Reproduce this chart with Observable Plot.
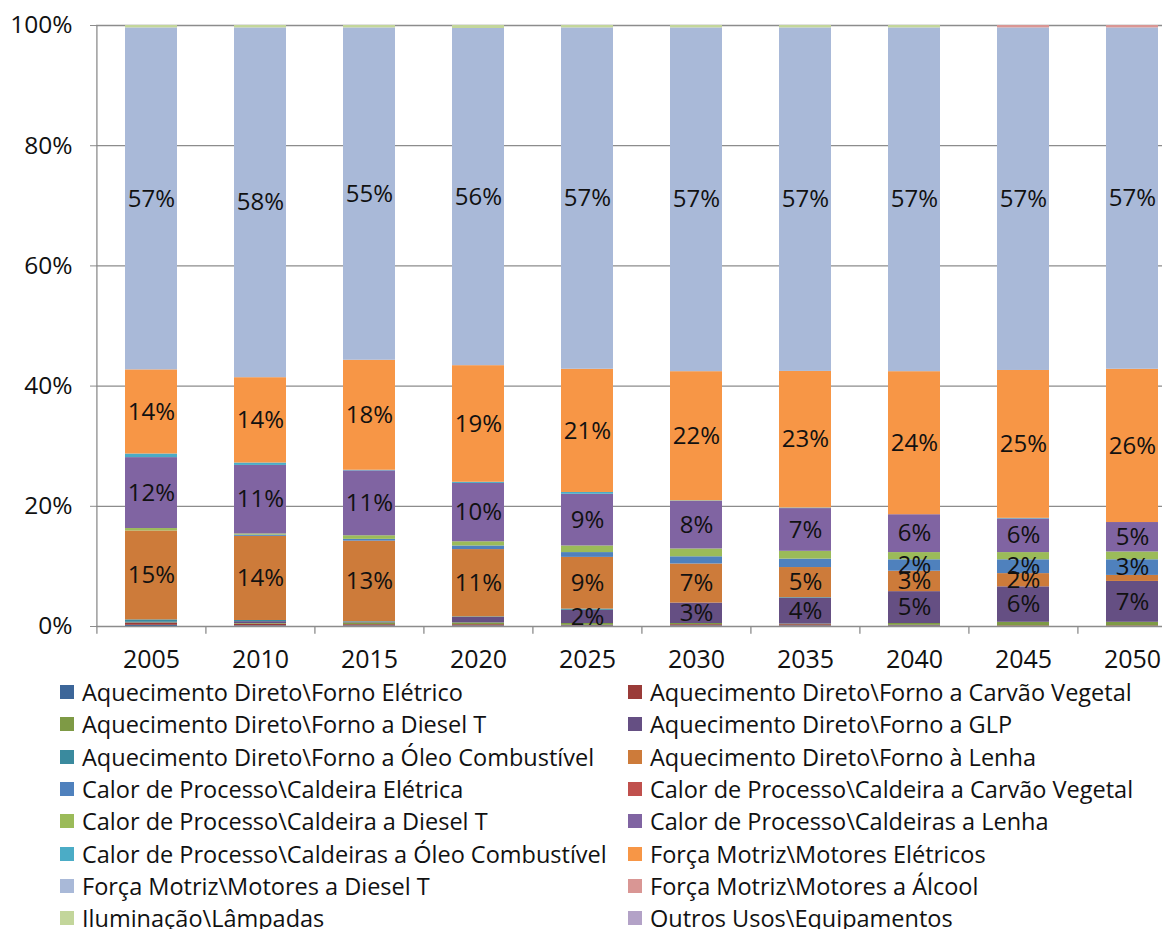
<!DOCTYPE html>
<html>
<head>
<meta charset="utf-8">
<script src="https://cdn.jsdelivr.net/npm/d3@7"></script>
<script src="https://cdn.jsdelivr.net/npm/@observablehq/plot@0.6"></script>
<style>
  html, body { margin: 0; padding: 0; background: #fff; overflow: hidden; }
  body { width: 1162px; height: 929px; font-family: "Open Sans", sans-serif; }
  #chart { width: 1162px; height: 676px; overflow: hidden; }
  #chart svg { max-width: none !important; }
  #legend { display: grid; grid-template-columns: 568px 560px; grid-auto-rows: 32.3px; padding-left: 60px; }
  .item { display: flex; align-items: center; font-size: 23.5px; color: #111; white-space: nowrap; }
  .sw { width: 14px; height: 14px; margin-right: 8px; flex: none; }
</style>
</head>
<body>
<div id="chart"></div>
<div id="legend"></div>
<script>
const years = ["2005","2010","2015","2020","2025","2030","2035","2040","2045","2050"];
const seriesNames = [
  "Aquecimento Direto\\Forno Elétrico",
  "Aquecimento Direto\\Forno a Carvão Vegetal",
  "Aquecimento Direto\\Forno a Diesel T",
  "Aquecimento Direto\\Forno a GLP",
  "Aquecimento Direto\\Forno a Óleo Combustível",
  "Aquecimento Direto\\Forno à Lenha",
  "Calor de Processo\\Caldeira Elétrica",
  "Calor de Processo\\Caldeira a Carvão Vegetal",
  "Calor de Processo\\Caldeira a Diesel T",
  "Calor de Processo\\Caldeiras a Lenha",
  "Calor de Processo\\Caldeiras a Óleo Combustível",
  "Força Motriz\\Motores Elétricos",
  "Força Motriz\\Motores a Diesel T",
  "Força Motriz\\Motores a Álcool",
  "Iluminação\\Lâmpadas",
  "Outros Usos\\Equipamentos"
];
const seriesColors = [
  "#3C6699","#9A3B38","#7E9A45","#654F83","#3A8A9E","#CD7B3A",
  "#4F81BD","#C0504D","#9BBB59","#8064A2","#4BACC6","#F79646",
  "#A9B9D8","#D99694","#C3D69B","#B3A2C7"
];
// values in % per series, one per year
const fornoEletrico      = [0.2, 0.1, 0.1, 0.1, 0.1, 0.1, 0.1, 0.1, 0.0, 0.0];
const fornoCarvao        = [0.3, 0.3, 0.2, 0.2, 0.1, 0.2, 0.2, 0.1, 0.1, 0.1];
const fornoDiesel        = [0.1, 0.1, 0.3, 0.3, 0.3, 0.2, 0.1, 0.3, 0.6, 0.6];
const fornoGLP           = [0.1, 0.3, 0.1, 0.9, 2.2, 3.4, 4.3, 5.3, 5.9, 6.8];
const fornoOleo          = [0.4, 0.2, 0.1, 0.1, 0.2, 0.0, 0.1, 0.0, 0.0, 0.0];
const fornoLenha         = [14.8, 14.0, 13.4, 11.2, 8.6, 6.5, 5.0, 3.4, 2.2, 1.0];
const caldeiraEletrica   = [0.0, 0.2, 0.3, 0.6, 0.8, 1.2, 1.4, 1.9, 2.3, 2.6];
const caldeiraCarvao     = [0.0, 0.0, 0.0, 0.0, 0.0, 0.0, 0.0, 0.0, 0.0, 0.0];
const caldeiraDiesel     = [0.4, 0.2, 0.6, 0.7, 1.1, 1.3, 1.3, 1.2, 1.2, 1.3];
const caldeirasLenha     = [11.8, 11.4, 10.8, 9.7, 8.6, 7.9, 7.1, 6.3, 5.6, 4.9];
const caldeirasOleo      = [0.6, 0.4, 0.1, 0.2, 0.3, 0.1, 0.1, 0.0, 0.1, 0.0];
const motoresEletricos   = [14.0, 14.2, 18.3, 19.4, 20.5, 21.5, 22.7, 23.8, 24.6, 25.5];
const motoresDiesel      = [56.9, 58.2, 55.3, 56.1, 56.8, 57.2, 57.1, 57.2, 57.0, 56.8];
const motoresAlcool      = [0.0, 0.0, 0.0, 0.0, 0.0, 0.0, 0.0, 0.0, 0.4, 0.4];
const iluminacao         = [0.4, 0.4, 0.4, 0.5, 0.4, 0.4, 0.4, 0.4, 0.0, 0.0];
const outrosUsos         = [0.0, 0.0, 0.0, 0.0, 0.0, 0.0, 0.0, 0.0, 0.0, 0.0];
const yTicks = [0, 0.2, 0.4, 0.6, 0.8, 1];

const seriesValues = [fornoEletrico, fornoCarvao, fornoDiesel, fornoGLP, fornoOleo, fornoLenha,
  caldeiraEletrica, caldeiraCarvao, caldeiraDiesel, caldeirasLenha, caldeirasOleo,
  motoresEletricos, motoresDiesel, motoresAlcool, iluminacao, outrosUsos];

const data = [];
years.forEach((yr, i) => {
  seriesNames.forEach((s, j) => data.push({year: yr, series: s, value: seriesValues[j][i]}));
});

const W = 1190, ML = 96, MR = 2;
const step = (W - ML - MR) / years.length;
const font = "'Open Sans', sans-serif";

const chart = Plot.plot({
  width: W, height: 676,
  marginLeft: ML, marginRight: MR, marginTop: 25, marginBottom: 50,
  style: {fontFamily: font, fontSize: "24px", color: "#111", background: "#fff", overflow: "visible", maxWidth: "none"},
  x: {domain: years, paddingInner: 0.52, paddingOuter: 0.26, label: null},
  y: {domain: [0, 1], label: null},
  color: {domain: seriesNames, range: seriesColors},
  marks: [
    Plot.ruleY(yTicks.slice(1), {stroke: "#8c8c8c", strokeWidth: 1.3}),
    Plot.barY(data, Plot.stackY({x: "year", y: "value", fill: "series", order: null, offset: "normalize"})),
    Plot.text(data, Plot.stackY({
      x: "year", y: "value", order: null, offset: "normalize",
      text: d => d.value >= 1.5 ? Math.round(d.value) + "%" : "",
      fill: "#111", fontSize: 24
    })),
    Plot.ruleY([0], {stroke: "#8c8c8c", strokeWidth: 1.3}),
    Plot.ruleX([years[0]], {dx: -step / 2, y1: 0, y2: 1, stroke: "#8c8c8c", strokeWidth: 1.3}),
    Plot.ruleX(years, {dx: -step / 2, y1: -0.013, y2: 0, stroke: "#8c8c8c", strokeWidth: 1.3}),
    Plot.axisY({ticks: yTicks, tickFormat: d3.format(".0%"), tickSize: 6, tickPadding: 18, stroke: "#8c8c8c", fontSize: 24.5}),
    Plot.axisX({tickSize: 0, tickPadding: 24, fontSize: 25})
  ]
});
chart.style.maxWidth = "none";
document.getElementById("chart").appendChild(chart);

const legend = document.getElementById("legend");
// two-column legend, row-major order as in the reference
seriesNames.forEach((s, j) => {
  const it = document.createElement("div");
  it.className = "item";
  const sw = document.createElement("span");
  sw.className = "sw";
  sw.style.background = seriesColors[j];
  it.appendChild(sw);
  it.appendChild(document.createTextNode(s));
  legend.appendChild(it);
});
</script>
</body>
</html>
